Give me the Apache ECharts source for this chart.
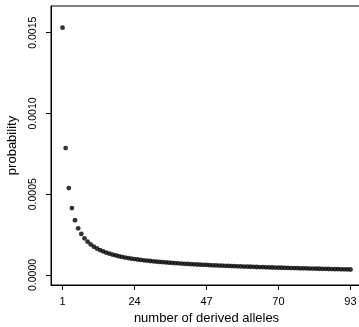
<!DOCTYPE html>
<html>
<head>
<meta charset="utf-8">
<script src="https://cdn.jsdelivr.net/npm/echarts@6/dist/echarts.min.js"></script>
<style>
html,body{margin:0;padding:0;background:#fff;}
#chart{width:359px;height:327px;}
</style>
</head>
<body>
<div id="chart"></div>
<script>
var alleles = [];
for (var k = 1; k <= 93; k++) alleles.push(k);
var probability = [
0.0015310,0.0007860,0.0005380,0.0004140,0.0003390,0.0002890,0.0002540,0.0002270,0.0002060,0.0001890,
0.0001750,0.0001640,0.0001540,0.0001460,0.0001380,0.0001320,0.0001260,0.0001210,0.0001160,0.0001120,
0.0001080,0.0001050,0.0001010,0.0000985,0.0000958,0.0000932,0.0000908,0.0000886,0.0000865,0.0000845,
0.0000826,0.0000809,0.0000792,0.0000776,0.0000761,0.0000746,0.0000732,0.0000719,0.0000706,0.0000694,
0.0000682,0.0000671,0.0000660,0.0000649,0.0000639,0.0000629,0.0000620,0.0000610,0.0000601,0.0000593,
0.0000584,0.0000576,0.0000568,0.0000560,0.0000552,0.0000545,0.0000537,0.0000530,0.0000523,0.0000516,
0.0000509,0.0000503,0.0000496,0.0000490,0.0000483,0.0000477,0.0000471,0.0000465,0.0000459,0.0000454,
0.0000448,0.0000442,0.0000437,0.0000431,0.0000426,0.0000421,0.0000415,0.0000410,0.0000405,0.0000400,
0.0000395,0.0000390,0.0000385,0.0000380,0.0000376,0.0000371,0.0000366,0.0000361,0.0000357,0.0000352,
0.0000348,0.0000343,0.0000339
];
var xTicks = [1, 24, 47, 70, 93];
var yTicks = [0, 0.0005, 0.0010, 0.0015];

var points = alleles.map(function (a, i) { return [a, probability[i]]; });
var font = 'Liberation Sans, Arial, Helvetica, sans-serif';

var chart = echarts.init(document.getElementById('chart'), null, {renderer: 'canvas'});
chart.setOption({
  animation: false,
  grid: {left: 51, top: 6, right: -3, bottom: 42, show: true, borderColor: '#000', borderWidth: 1,
    containLabel: false, outerBoundsMode: 'none'},
  xAxis: {
    type: 'value', min: -2.68, max: 96.68,
    name: 'number of derived alleles', nameLocation: 'middle', nameGap: 26,
    nameTextStyle: {fontFamily: font, fontSize: 13, color: '#000'},
    axisLine: {show: true, onZero: false, lineStyle: {color: '#000', width: 1}},
    axisTick: {show: true, length: 5, customValues: xTicks, lineStyle: {color: '#000'}},
    axisLabel: {customValues: xTicks, margin: 11, fontFamily: font, fontSize: 11, color: '#000'},
    splitLine: {show: false}
  },
  yAxis: {
    type: 'value', min: -0.000062, max: 0.0016655,
    name: 'probability', nameLocation: 'middle', nameGap: 32, nameRotate: 90,
    nameTextStyle: {fontFamily: font, fontSize: 13, color: '#000'},
    axisLine: {show: true, onZero: false, lineStyle: {color: '#000', width: 1}},
    axisTick: {show: true, length: 5, customValues: yTicks, lineStyle: {color: '#000'}},
    axisLabel: {customValues: yTicks, rotate: 90, margin: 12, fontFamily: font, fontSize: 10.5, color: '#000',
      formatter: function (v) { return v.toFixed(4); }},
    splitLine: {show: false}
  },
  series: [{
    type: 'scatter', data: points, symbol: 'circle', symbolSize: 4.8,
    itemStyle: {color: '#000'}
  }]
});
</script>
</body>
</html>
